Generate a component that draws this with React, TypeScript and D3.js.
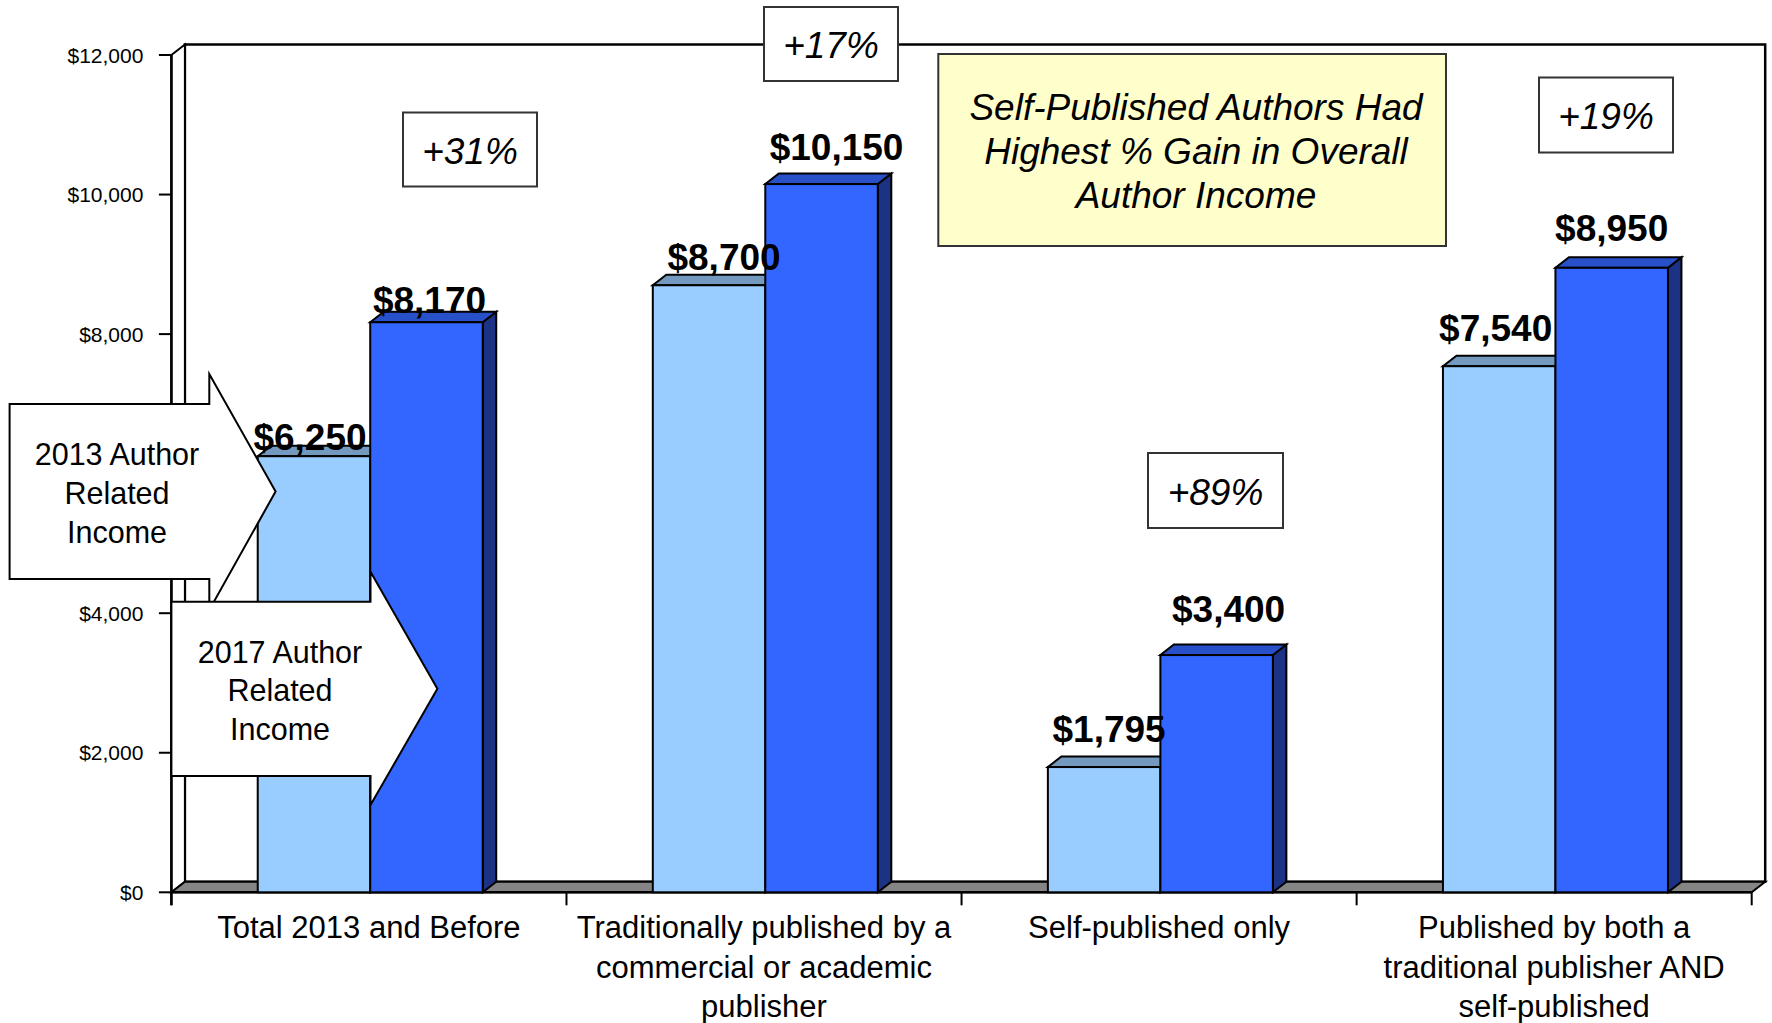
import React from "react";
import * as d3 from "d3";

// ---------- data ----------
const categories = [
  "Total 2013 and Before",
  "Traditionally published by a commercial or academic publisher",
  "Self-published only",
  "Published by both a traditional publisher AND self-published",
];
const categoryLines = [
  ["Total 2013 and Before"],
  ["Traditionally published by a", "commercial or academic", "publisher"],
  ["Self-published only"],
  ["Published by both a", "traditional publisher AND", "self-published"],
];
const seriesNames = ["2013 Author Related Income", "2017 Author Related Income"];
const income2013 = [6250, 8700, 1795, 7540];
const income2017 = [8170, 10150, 3400, 8950];
const gainLabels = ["+31%", "+17%", "+89%", "+19%"];
const yTicks = [0, 2000, 4000, 6000, 8000, 10000, 12000];
// tick labels hidden behind the callout in the original
const hiddenTickLabels = [6000];
const headline = ["Self-Published Authors Had", "Highest % Gain in Overall", "Author Income"];
const callout2013 = ["2013 Author", "Related", "Income"];
const callout2017 = ["2017 Author", "Related", "Income"];

// ---------- layout ----------
const W = 1772;
const H = 1023;
const FONT = "'Liberation Sans', Arial, Helvetica, sans-serif";
const DX = 13.5;
const DY = -10.5;
const PLOT_LEFT = 171.4;
const PLOT_RIGHT = 1751.7;
const Y_ZERO = 892.3;
const Y_TOP = 55;

const COLORS = {
  light: "#99CCFF",
  lightTop: "#7399BF",
  lightSide: "#5C85B0",
  dark: "#3366FF",
  darkTop: "#2850C8",
  darkSide: "#1C3385",
  floor: "#858585",
  yellow: "#FFFFCC",
};

// label nudges (dx, dy from bar front-top centre), [category][series]
const labelNudge = [
  [[-4, -6], [3, -9]],
  [[15, -15], [15, -24]],
  [[5, -25], [12, -33]],
  [[-3.5, -25], [0, -27]],
];
// gain box geometry per category
const gainBoxes = [
  { x: 403, y: 112.5, w: 134, h: 74 },
  { x: 764, y: 7, w: 134, h: 74 },
  { x: 1148, y: 453, w: 135, h: 75 },
  { x: 1539, y: 77.5, w: 134, h: 75 },
];

const fmt = (v: number) => "$" + d3.format(",")(v);

function poly(pts: [number, number][]) {
  return "M" + pts.map((p) => p[0] + "," + p[1]).join("L") + "Z";
}

export default function App() {
  const y = d3.scaleLinear().domain([0, 12000]).range([Y_ZERO, Y_TOP]);
  const x0 = d3.scaleBand<string>().domain(categories).range([PLOT_LEFT, PLOT_RIGHT]);
  const bw = x0.bandwidth();
  const x1 = d3
    .scaleBand<string>()
    .domain(seriesNames)
    .range([bw * 0.2185, bw * 0.788]);

  const seriesValues = [income2013, income2017];
  const fills = [
    { front: COLORS.light, top: COLORS.lightTop, side: COLORS.lightSide },
    { front: COLORS.dark, top: COLORS.darkTop, side: COLORS.darkSide },
  ];

  const bars: React.ReactNode[] = [];
  const labels: React.ReactNode[] = [];
  categories.forEach((c, ci) => {
    seriesNames.forEach((s, si) => {
      const v = seriesValues[si][ci];
      const bx = (x0(c) as number) + (x1(s) as number);
      const w = x1.bandwidth();
      const yt = y(v);
      const y0 = y(0);
      const f = fills[si];
      bars.push(
        <g key={`b-${ci}-${si}`} stroke="#000" strokeWidth={2} strokeLinejoin="miter">
          <path d={poly([[bx + w, yt], [bx + w + DX, yt + DY], [bx + w + DX, y0 + DY], [bx + w, y0]])} fill={f.side} />
          <path d={poly([[bx, yt], [bx + DX, yt + DY], [bx + w + DX, yt + DY], [bx + w, yt]])} fill={f.top} />
          <rect x={bx} y={yt} width={w} height={y0 - yt} fill={f.front} />
        </g>
      );
      const [ndx, ndy] = labelNudge[ci][si];
      labels.push(
        <text
          key={`l-${ci}-${si}`}
          x={bx + w / 2 + ndx}
          y={yt + ndy}
          textAnchor="middle"
          fontFamily={FONT}
          fontWeight="bold"
          fontSize={37}
          fill="#000"
        >
          {fmt(v)}
        </text>
      );
    });
  });

  const backTop = Y_TOP + DY;
  const backBottom = Y_ZERO + DY;

  const arrow = (
    x0a: number,
    x1a: number,
    top: number,
    bottom: number,
    spikeTop: number,
    spikeBottom: number,
    tipX: number
  ) => {
    const mid = (top + bottom) / 2;
    return poly([
      [x0a, top],
      [x1a, top],
      [x1a, spikeTop],
      [tipX, mid],
      [x1a, spikeBottom],
      [x1a, bottom],
      [x0a, bottom],
    ]);
  };

  return (
    <div>
      <style>{`body{margin:0;background:#fff;}`}</style>
      <svg width={W} height={H} viewBox={`0 0 ${W} ${H}`} style={{ display: "block" }}>
        <rect x={0} y={0} width={W} height={H} fill="#fff" />
        {/* back wall */}
        <path
          d={poly([[PLOT_LEFT + DX, backTop], [PLOT_RIGHT + DX, backTop], [PLOT_RIGHT + DX, backBottom], [PLOT_LEFT + DX, backBottom]])}
          fill="#fff"
          stroke="#000"
          strokeWidth={2.5}
        />
        {/* left wall */}
        <path
          d={poly([[PLOT_LEFT, Y_TOP], [PLOT_LEFT + DX, backTop], [PLOT_LEFT + DX, backBottom], [PLOT_LEFT, Y_ZERO]])}
          fill="#fff"
          stroke="#000"
          strokeWidth={2}
        />
        {/* floor */}
        <path
          d={poly([[PLOT_LEFT, Y_ZERO], [PLOT_LEFT + DX, backBottom], [PLOT_RIGHT + DX, backBottom], [PLOT_RIGHT, Y_ZERO]])}
          fill={COLORS.floor}
          stroke="#000"
          strokeWidth={2}
        />
        {/* y axis ticks */}
        {yTicks.map((t) => (
          <g key={`yt-${t}`}>
            <line x1={PLOT_LEFT - 12.5} x2={PLOT_LEFT} y1={y(t)} y2={y(t)} stroke="#000" strokeWidth={2} />
            {hiddenTickLabels.includes(t) ? null : (
              <text
                x={PLOT_LEFT - 28}
                y={y(t)}
                dy="0.36em"
                textAnchor="end"
                fontFamily={FONT}
                fontSize={21}
                fill="#000"
              >
                {fmt(t)}
              </text>
            )}
          </g>
        ))}
        {/* x axis ticks */}
        {categories.map((c, i) => (
          <line
            key={`xt-${i}`}
            x1={x0(c) as number}
            x2={x0(c) as number}
            y1={Y_ZERO}
            y2={Y_ZERO + 13}
            stroke="#000"
            strokeWidth={2}
          />
        ))}
        <line x1={PLOT_RIGHT} x2={PLOT_RIGHT} y1={Y_ZERO} y2={Y_ZERO + 13} stroke="#000" strokeWidth={2} />
        <line x1={PLOT_LEFT} x2={PLOT_RIGHT} y1={Y_ZERO} y2={Y_ZERO} stroke="#000" strokeWidth={2.5} />
        <line x1={PLOT_LEFT} x2={PLOT_LEFT} y1={Y_TOP} y2={Y_ZERO + 13} stroke="#000" strokeWidth={2.5} />

        {/* bars */}
        {bars}

        {/* category labels */}
        {categories.map((c, i) => (
          <text
            key={`cl-${i}`}
            x={(x0(c) as number) + bw / 2}
            y={938}
            textAnchor="middle"
            fontFamily={FONT}
            fontSize={31}
            fill="#000"
          >
            {categoryLines[i].map((ln, k) => (
              <tspan key={k} x={(x0(c) as number) + bw / 2} dy={k === 0 ? 0 : 39.5}>
                {ln}
              </tspan>
            ))}
          </text>
        ))}

        {/* gain boxes */}
        {gainLabels.map((g, i) => {
          const b = gainBoxes[i];
          return (
            <g key={`g-${i}`}>
              <rect x={b.x} y={b.y} width={b.w} height={b.h} fill="#fff" stroke="#333" strokeWidth={2} />
              <text
                x={b.x + b.w / 2}
                y={b.y + b.h / 2 + 14}
                textAnchor="middle"
                fontFamily={FONT}
                fontStyle="italic"
                fontSize={37}
                fill="#000"
              >
                {g}
              </text>
            </g>
          );
        })}

        {/* headline box */}
        <rect x={938.3} y={54} width={507.7} height={192} fill={COLORS.yellow} stroke="#333" strokeWidth={2} />
        {headline.map((ln, i) => (
          <text
            key={`h-${i}`}
            x={1196}
            y={120 + i * 44}
            textAnchor="middle"
            fontFamily={FONT}
            fontStyle="italic"
            fontSize={37}
            fill="#000"
          >
            {ln}
          </text>
        ))}

        {/* callout arrows */}
        <path d={arrow(9.6, 209.3, 404, 579, 374, 610, 275.6)} fill="#fff" stroke="#000" strokeWidth={2} />
        {callout2013.map((ln, i) => (
          <text key={`c13-${i}`} x={117} y={465 + i * 39} textAnchor="middle" fontFamily={FONT} fontSize={30.5} fill="#000">
            {ln}
          </text>
        ))}
        <path d={arrow(171.4, 370.5, 601.7, 776, 571.7, 805, 437.4)} fill="#fff" stroke="#000" strokeWidth={2} />
        {callout2017.map((ln, i) => (
          <text key={`c17-${i}`} x={280} y={662.7 + i * 38.5} textAnchor="middle" fontFamily={FONT} fontSize={30.5} fill="#000">
            {ln}
          </text>
        ))}

        {/* value labels */}
        {labels}
      </svg>
    </div>
  );
}
